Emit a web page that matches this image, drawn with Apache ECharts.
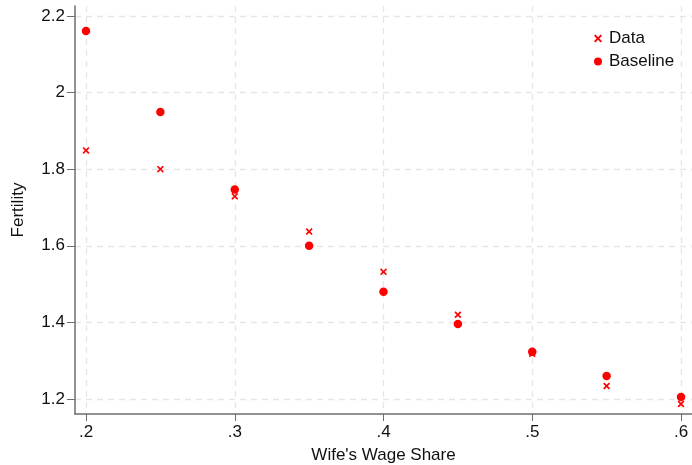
<!DOCTYPE html>
<html><head><meta charset="utf-8">
<script src="https://cdn.jsdelivr.net/npm/echarts@6/dist/echarts.min.js"></script>
<style>html,body{margin:0;padding:0;background:#fff}#c{width:692px;height:465px}</style>
</head><body><div id="c"></div>
<script>
const shares = [0.20, 0.25, 0.30, 0.35, 0.40, 0.45, 0.50, 0.55, 0.60];
const dataFert = [1.849, 1.800, 1.729, 1.637, 1.532, 1.420, 1.318, 1.234, 1.187];
const baselineFert = [2.161, 1.949, 1.747, 1.600, 1.480, 1.396, 1.323, 1.260, 1.205];
const xTicks = [0.2, 0.3, 0.4, 0.5, 0.6];
const yTicks = [1.2, 1.4, 1.6, 1.8, 2.0, 2.2];

const xPath = 'path://M0,1.7L1.7,0L5,3.3L8.3,0L10,1.7L6.7,5L10,8.3L8.3,10L5,6.7L1.7,10L0,8.3L3.3,5Z';
const font = 'Liberation Sans, Arial, sans-serif';
const chart = echarts.init(document.getElementById('c'));
const fmtX = v => { const s = (+v).toFixed(1); return s.replace(/^0/, ''); };
const fmtY = v => String(+(+v).toFixed(1));
chart.setOption({
  animation: false,
  grid: {left: 75, right: 0, top: 6, bottom: 51, containLabel: false, outerBoundsMode: 'none'},
  legend: {
    orient: 'vertical', left: 589, top: 25, itemGap: 6,
    itemWidth: 8, itemHeight: 8,
    textStyle: {fontFamily: font, fontSize: 17, color: '#111', lineHeight: 17, padding: [0, 0, 0, 2]},
    data: ['Data', 'Baseline']
  },
  xAxis: {
    type: 'value', min: 0.1926, max: 0.6074,
    name: "Wife's Wage Share", nameLocation: 'middle', nameGap: 33,
    nameTextStyle: {fontFamily: font, fontSize: 17, color: '#111'},
    axisLine: {show: true, onZero: false, lineStyle: {color: '#6e6e6e', width: 1.5}},
    axisTick: {show: true, length: 7, customValues: xTicks, lineStyle: {color: '#6e6e6e'}},
    axisLabel: {customValues: xTicks, formatter: fmtX, fontFamily: font, fontSize: 17, color: '#111', margin: 10},
    splitLine: {show: true, lineStyle: {color: '#e6e6e6', type: [6, 5], width: 1.3}}
  },
  yAxis: {
    type: 'value', min: 1.1608, max: 2.226,
    name: 'Fertility', nameLocation: 'middle', nameGap: 48, nameRotate: 90,
    nameTextStyle: {fontFamily: font, fontSize: 17, color: '#111'},
    axisLine: {show: true, onZero: false, lineStyle: {color: '#6e6e6e', width: 1.5}},
    axisTick: {show: true, length: 8, customValues: yTicks, lineStyle: {color: '#6e6e6e'}},
    axisLabel: {customValues: yTicks, formatter: fmtY, fontFamily: font, fontSize: 17, color: '#111', margin: 10},
    splitLine: {show: true, lineStyle: {color: '#e6e6e6', type: [6, 5], width: 1.3}}
  },
  series: [
    {name: 'Data', type: 'scatter', symbol: xPath, symbolSize: 7,
     itemStyle: {color: '#ff0000', opacity: 1}, data: shares.map((x, i) => [x, dataFert[i]])},
    {name: 'Baseline', type: 'scatter', symbol: 'circle', symbolSize: 8.5,
     itemStyle: {color: '#ff0000', opacity: 1}, data: shares.map((x, i) => [x, baselineFert[i]])}
  ]
});
</script></body></html>
